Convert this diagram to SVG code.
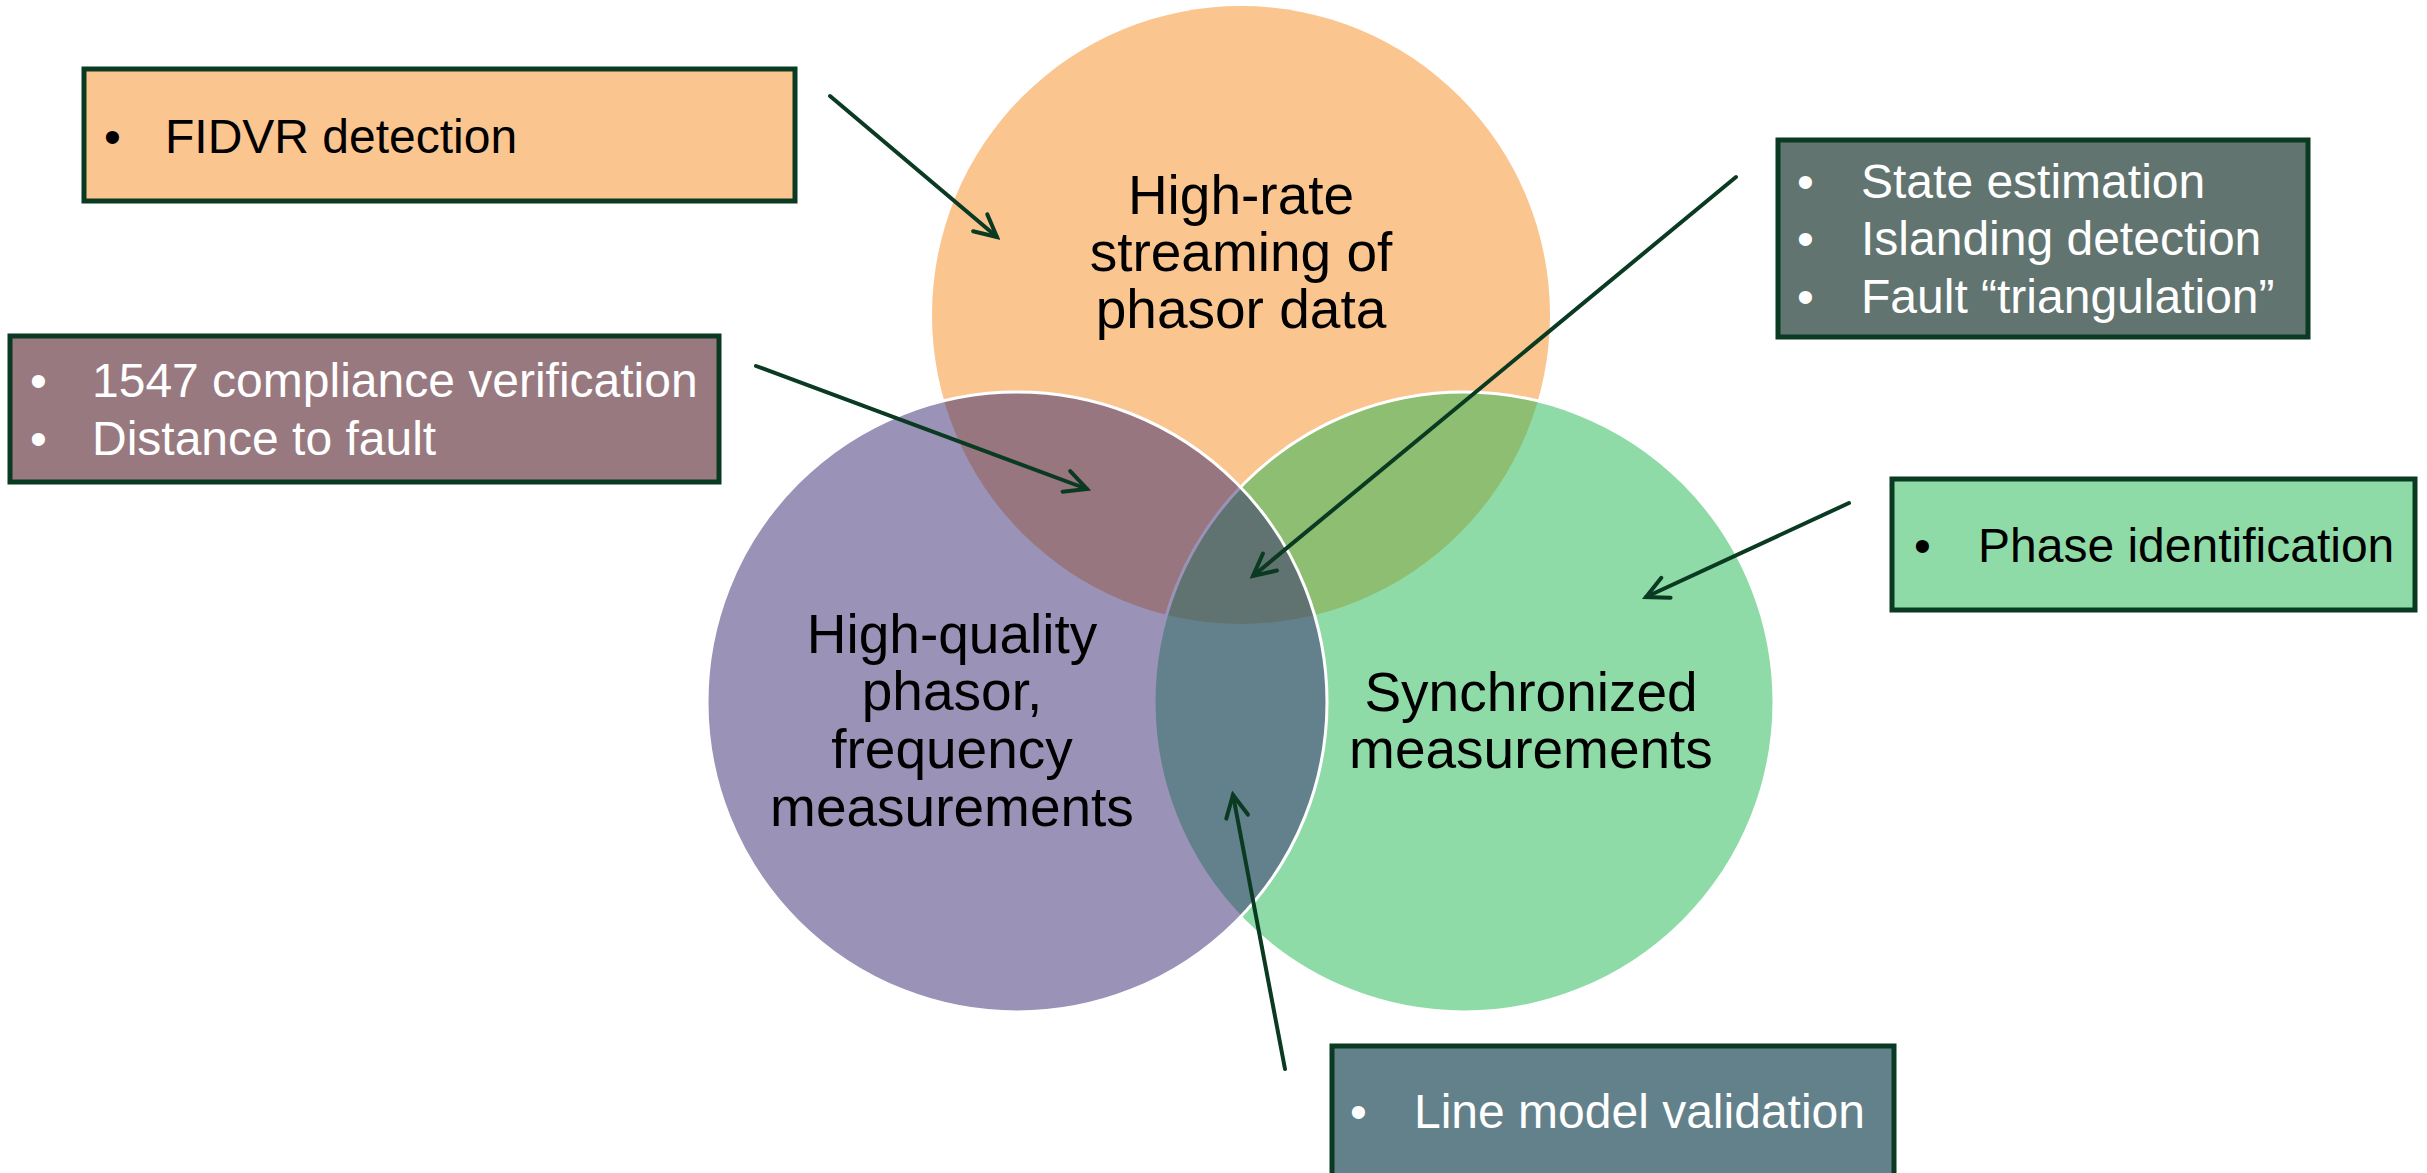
<svg xmlns="http://www.w3.org/2000/svg" width="2427" height="1173" viewBox="0 0 2427 1173">
<style>
.circ{stroke:#ffffff;stroke-width:3}
.box{stroke:#0a3a22;stroke-width:5}
.lbl{font-family:"Liberation Sans",Arial,sans-serif;font-size:55px;fill:#000000;text-anchor:middle}
.bt{font-family:"Liberation Sans",Arial,sans-serif;font-size:48px}
.dark{fill:#000000}
.light{fill:#ffffff}
.conn{stroke:#0a3a22;stroke-width:4;fill:none;stroke-linecap:round}
</style>
<defs>
<marker id="arr" markerUnits="userSpaceOnUse" viewBox="-26 -14 30 28" refX="0" refY="0" markerWidth="30" markerHeight="28" orient="auto">
<path d="M-22,-11 L0,0 L-22,11" fill="none" stroke="#0a3a22" stroke-width="4" stroke-linecap="round" stroke-linejoin="miter"/>
</marker>
</defs>
<rect width="2427" height="1173" fill="#ffffff"/>
<g id="circle-streaming">
<circle cx="1241" cy="315" r="309" fill="#fbc590"/>
<text class="lbl" x="1241" y="214">High-rate</text>
<text class="lbl" x="1241" y="271">streaming of</text>
<text class="lbl" x="1241" y="328">phasor data</text>
</g>
<g id="circle-synchronized">
<circle class="circ" cx="1464" cy="702" r="310" fill="#1fb751" fill-opacity="0.5"/>
</g>
<g id="circle-quality">
<circle class="circ" cx="1017" cy="702" r="310" fill="#35276f" fill-opacity="0.5"/>
</g>
<g id="circle-labels">
<text class="lbl" x="952" y="653">High-quality</text>
<text class="lbl" x="952" y="710">phasor,</text>
<text class="lbl" x="952" y="768">frequency</text>
<text class="lbl" x="952" y="826">measurements</text>
<text class="lbl" x="1531" y="711">Synchronized</text>
<text class="lbl" x="1531" y="768">measurements</text>
</g>
<g id="box-fidvr">
<rect class="box" x="84" y="69" width="711" height="132" fill="#fbc590"/>
<text class="bt dark" x="104" y="153">•</text>
<text class="bt dark" x="165" y="153">FIDVR detection</text>
</g>
<g id="box-1547">
<rect class="box" x="10" y="336" width="709" height="146" fill="#98797f"/>
<text class="bt light" x="30" y="397">•</text>
<text class="bt light" x="92" y="397">1547 compliance verification</text>
<text class="bt light" x="30" y="455">•</text>
<text class="bt light" x="92" y="455">Distance to fault</text>
</g>
<g id="box-state">
<rect class="box" x="1778" y="140" width="530" height="197" fill="#617470"/>
<text class="bt light" x="1797" y="198">•</text>
<text class="bt light" x="1861" y="198">State estimation</text>
<text class="bt light" x="1797" y="255">•</text>
<text class="bt light" x="1861" y="255">Islanding detection</text>
<text class="bt light" x="1797" y="313">•</text>
<text class="bt light" x="1861" y="313">Fault “triangulation”</text>
</g>
<g id="box-phase">
<rect class="box" x="1892" y="479" width="523" height="131" fill="#8fdba8"/>
<text class="bt dark" x="1914" y="562">•</text>
<text class="bt dark" x="1978" y="562">Phase identification</text>
</g>
<g id="box-line">
<rect class="box" x="1332" y="1046" width="562" height="150" fill="#62818b"/>
<text class="bt light" x="1350" y="1128">•</text>
<text class="bt light" x="1414" y="1128">Line model validation</text>
</g>
<g id="connectors">
<line class="conn" x1="830" y1="96" x2="997" y2="237" marker-end="url(#arr)"/>
<line class="conn" x1="756" y1="366" x2="1087" y2="489" marker-end="url(#arr)"/>
<line class="conn" x1="1736" y1="177" x2="1253" y2="576" marker-end="url(#arr)"/>
<line class="conn" x1="1849" y1="503" x2="1646" y2="597" marker-end="url(#arr)"/>
<line class="conn" x1="1285" y1="1069" x2="1233" y2="795" marker-end="url(#arr)"/>
</g>
</svg>
